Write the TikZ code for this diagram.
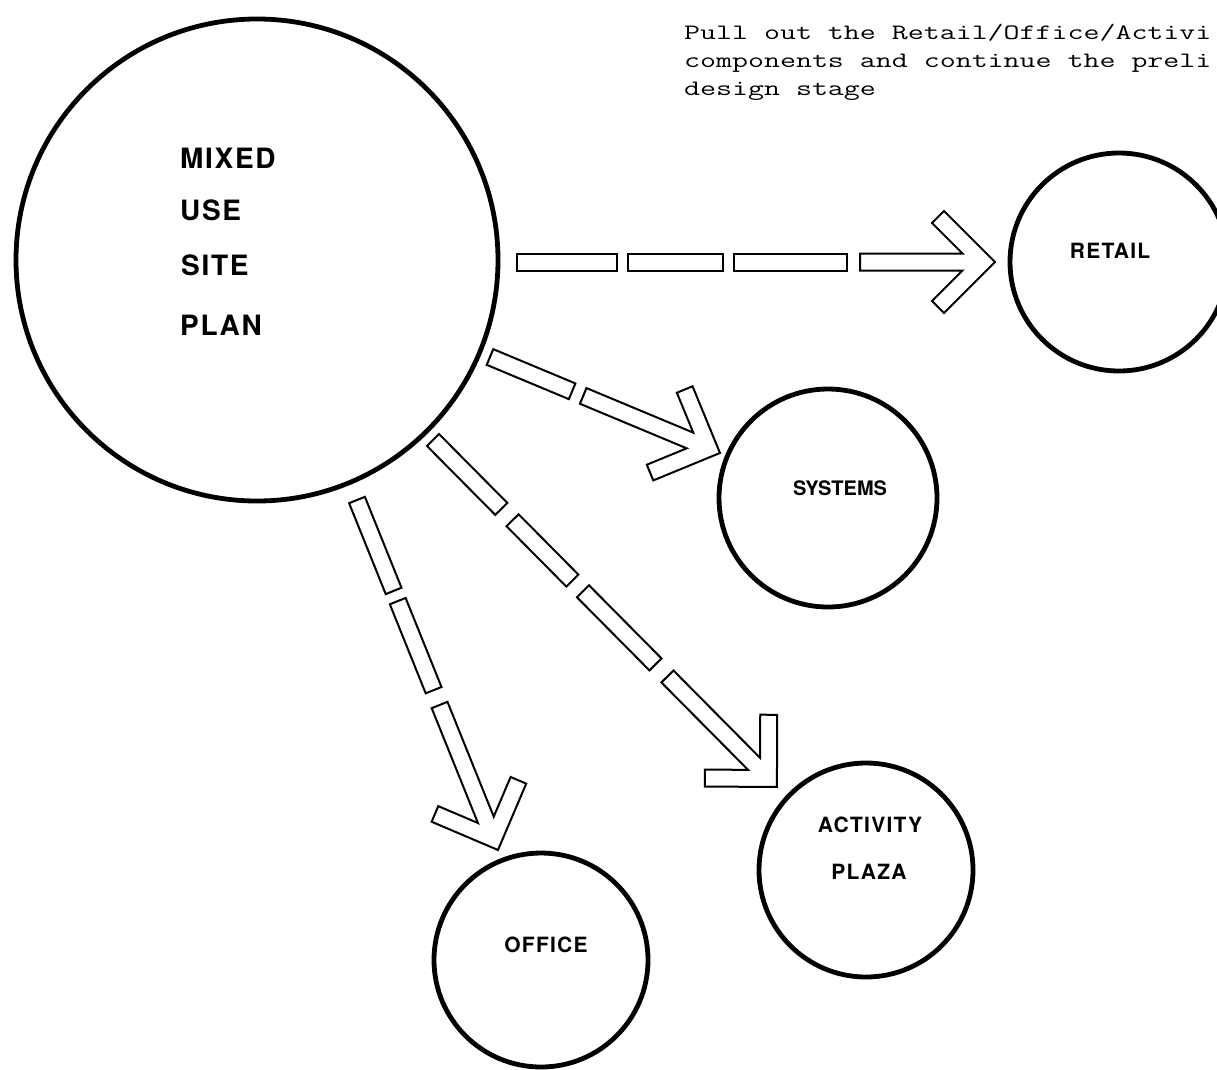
\documentclass[tikz,border=0pt]{standalone}
\usepackage{fontspec}
\newfontfamily\lab{TeX Gyre Heros}[LetterSpace=6]
\newfontfamily\labn{TeX Gyre Heros}
\tikzset{
  bubble/.style={circle, draw, line width=4.8pt, inner sep=0pt},
  hbar/.style={draw, line width=2pt, line join=miter},
  biglbl/.style={font=\lab\bfseries\fontsize{28}{28}\selectfont, anchor=base west, inner sep=0pt},
  sublbl/.style={font=\lab\bfseries\fontsize{21}{21}\selectfont, anchor=base, inner sep=0pt},
  notetext/.style={font=\ttfamily\fontsize{22}{22}\selectfont, anchor=base west, inner sep=0pt},
}
% hollow dashed arrow: #1 start coordinate, #2 tip coordinate, #3 dash list a/b, #4 start of last shaft
\newcommand{\hollowarrow}[4]{%
  \pgfpointdiff{\pgfpointanchor{#1}{center}}{\pgfpointanchor{#2}{center}}%
  \pgfgetlastxy{\hvx}{\hvy}%
  \pgfmathsetmacro{\hang}{atan2(\hvy,\hvx)}%
  \pgfmathsetmacro{\hlen}{veclen(\hvx,\hvy)}%
  \begin{scope}[shift={(#1)}, rotate=\hang]
    \foreach \a/\b in {#3} {\draw[hbar] (\a,-8.5) rectangle (\b,8.5);}
    \draw[hbar] (#4,8.5) -- ({\hlen-32.5},8.5) -- ({\hlen-63},39) -- ({\hlen-51},51)
      -- (\hlen,0) -- ({\hlen-51},-51) -- ({\hlen-63},-39) -- ({\hlen-32.5},-8.5)
      -- (#4,-8.5) -- cycle;
  \end{scope}}
\begin{document}
\begin{tikzpicture}[x=1pt,y=-1pt]
\useasboundingbox (0,0) rectangle (1217,1069);

% note text
\node[notetext] (note1) at (684,39) {\scalebox{1.41}[1]{Pull out the Retail/Office/Activi}};
\node[notetext] (note2) at (684,67) {\scalebox{1.41}[1]{components and continue the preli}};
\node[notetext] (note3) at (684,95) {\scalebox{1.41}[1]{design stage}};

% circles
\node[bubble, minimum size=482pt] (site) at (257,260) {};
\node[bubble, minimum size=218pt] (retail) at (1119,262) {};
\node[bubble, minimum size=218pt] (systems) at (828,498) {};
\node[bubble, minimum size=214pt] (plaza) at (866,870) {};
\node[bubble, minimum size=214pt] (office) at (541,960) {};

% labels
\node[biglbl] (lmixed) at (180,168) {MIXED};
\node[biglbl] (luse) at (180,220) {USE};
\node[biglbl] (lsite) at (181,275) {SITE};
\node[biglbl] (lplan) at (180,335) {PLAN};
\node[sublbl] (lretail) at (1110,258) {RETAIL};
\node[sublbl, font=\labn\bfseries\fontsize{20}{20}\selectfont] (lsys) at (840,495) {SYSTEMS};
\node[sublbl] (lact) at (870,832) {ACTIVITY};
\node[sublbl] (lplaza) at (869,879) {PLAZA};
\node[sublbl] (loffice) at (546,952) {OFFICE};

% arrow end points
\coordinate (rfrom) at (517,262);
\coordinate (rto) at (995,262);
\coordinate (sfrom) at (490,357);
\coordinate (sto) at (720,453);
\coordinate (afrom) at (433,440);
\coordinate (ato) at (777,787);
\coordinate (ofrom) at (357,500);
\coordinate (oto) at (498,850);

\hollowarrow{rfrom}{rto}{0/100,111/206,217/330}{343}
\hollowarrow{sfrom}{sto}{0/89}{101}
\hollowarrow{afrom}{ato}{0/97,113/198,213/316}{333}
\hollowarrow{ofrom}{oto}{0/98,109/205}{221}
\end{tikzpicture}
\end{document}
